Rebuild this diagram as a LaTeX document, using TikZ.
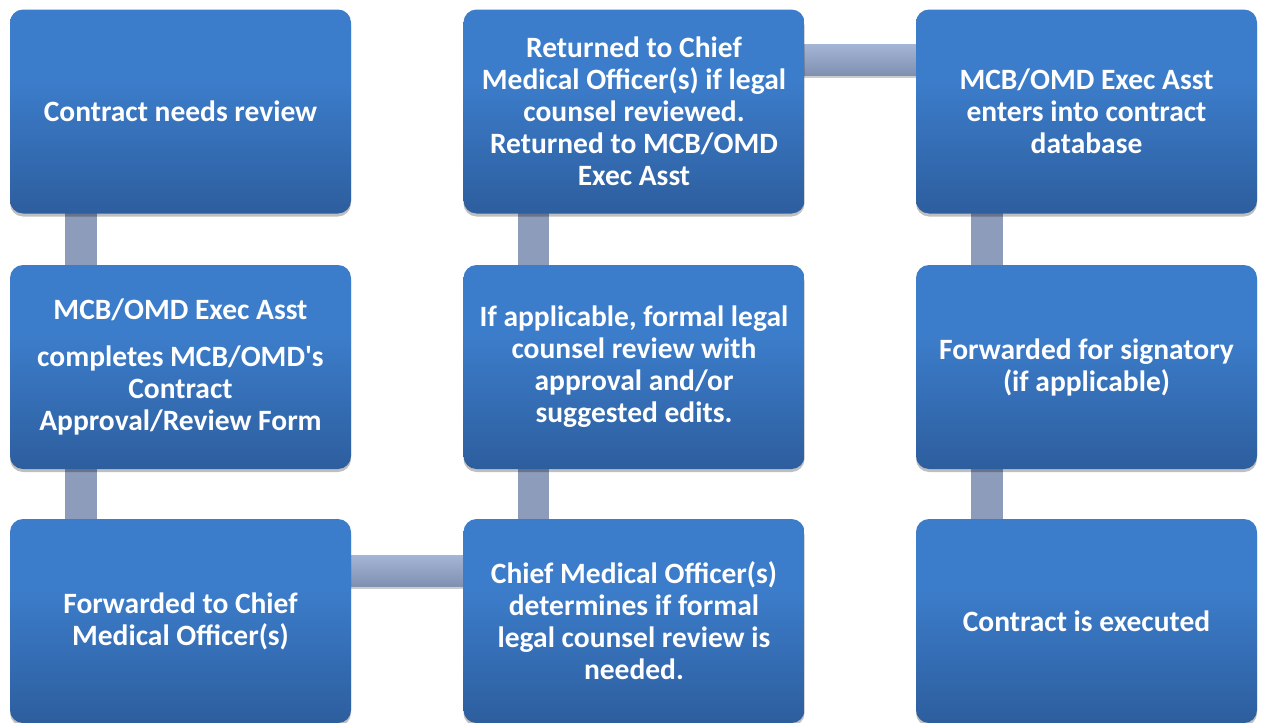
\documentclass[tikz,border=0pt]{standalone}
\usepackage{fontspec}
\setmainfont{Carlito}
\usetikzlibrary{calc,shadows}
\definecolor{boxtop}{HTML}{3C7DCB}
\definecolor{boxbot}{HTML}{2D5E9E}
\definecolor{conntop}{HTML}{A5B5D6}
\definecolor{connbot}{HTML}{8090B0}
\definecolor{connfill}{HTML}{8C9CBA}
\pgfdeclareverticalshading{boxshade}{100bp}{color(0bp)=(boxbot); color(25bp)=(boxbot); color(58bp)=(boxtop); color(100bp)=(boxtop)}
\tikzset{
  stepbox/.style={rectangle, rounded corners=13pt, minimum width=341pt, minimum height=204pt,
    shading=boxshade, text=white, align=center, inner sep=0pt,
    font=\fontsize{29.5}{32}\selectfont\bfseries,
    drop shadow={shadow xshift=0pt, shadow yshift=-3pt, opacity=0.25, fill=black}},
  vconn/.style={fill=connfill},
  hconn/.style={top color=conntop, bottom color=connbot,
    drop shadow={shadow xshift=0pt, shadow yshift=-3pt, opacity=0.2, fill=black}},
}
\begin{document}
\begin{tikzpicture}[x=1pt,y=-1pt]
\useasboundingbox (0,0) rectangle (1264,723);
\path (180.5,111.5) coordinate (pA) (180.5,367) coordinate (pB) (180.5,621) coordinate (pC)
      (634,621) coordinate (pD) (634,367) coordinate (pE) (634,111.5) coordinate (pF)
      (1086.5,111.5) coordinate (pG) (1086.5,367) coordinate (pH) (1086.5,621) coordinate (pI);
% connectors
\path[vconn] ($(pA)+(-116,95)$) rectangle ($(pB)+(-84,-95)$);
\path[vconn] ($(pB)+(-116,95)$) rectangle ($(pC)+(-84,-95)$);
\path[hconn] ($(pC)+(160,-66)$) rectangle ($(pD)+(-160,-35)$);
\path[vconn] ($(pD)+(-116,-95)$) rectangle ($(pE)+(-85,95)$);
\path[vconn] ($(pE)+(-116,-95)$) rectangle ($(pF)+(-85,95)$);
\path[hconn] ($(pF)+(160,-67.5)$) rectangle ($(pG)+(-160,-36.5)$);
\path[vconn] ($(pG)+(-116,95)$) rectangle ($(pH)+(-84,-95)$);
\path[vconn] ($(pH)+(-116,95)$) rectangle ($(pI)+(-84,-95)$);
% boxes
\node[stepbox] (A) at (pA) {Contract needs review};
\node[stepbox] (B) at (pB) {MCB/OMD Exec Asst\\[15pt]completes MCB/OMD\textquotesingle s\\Contract\\Approval/Review Form};
\node[stepbox] (C) at (pC) {Forwarded to Chief\\Medical Officer(s)};
\node[stepbox] (D) at (pD) {Chief Medical Officer(s)\\determines if formal\\legal counsel review is\\needed.};
\node[stepbox] (E) at (pE) {If applicable, formal legal\\counsel review with\\approval and/or\\suggested edits.};
\node[stepbox] (F) at (pF) {Returned to Chief\\Medical Officer(s) if legal\\counsel reviewed.\\Returned to MCB/OMD\\Exec Asst};
\node[stepbox] (G) at (pG) {MCB/OMD Exec Asst\\enters into contract\\database};
\node[stepbox] (H) at (pH) {Forwarded for signatory\\(if applicable)};
\node[stepbox] (I) at (pI) {Contract is executed};
\end{tikzpicture}
\end{document}
